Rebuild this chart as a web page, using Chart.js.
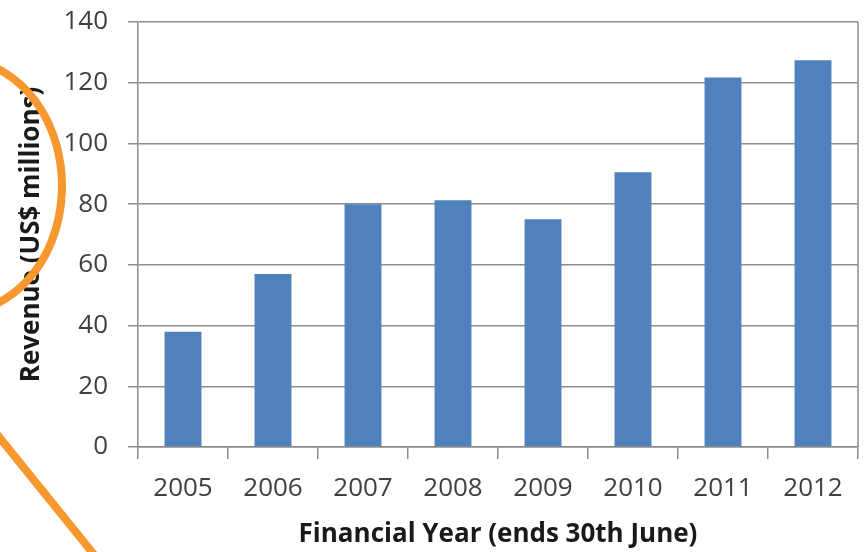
<!DOCTYPE html>
<html lang="en">
<head>
    <meta charset="UTF-8">
    <title>Revenue by Financial Year</title>
    <script src="https://cdn.jsdelivr.net/npm/chart.js"></script>
    <style>
        html, body { margin: 0; padding: 0; background: #fff; }
        #wrap { width: 864px; height: 552px; }
    </style>
</head>
<body>
    <div id="wrap"><canvas id="myChart" width="864" height="552"></canvas></div>
    <script>
        const years = ['2005', '2006', '2007', '2008', '2009', '2010', '2011', '2012'];
        const revenue = [38, 57, 80, 81.3, 75, 90.5, 121.7, 127.4];
        const yTicks = [0, 20, 40, 60, 80, 100, 120, 140];

        // plot border + the orange pen marks over the axis title
        const overlay = {
            id: 'overlay',
            afterDraw(chart) {
                const ctx = chart.ctx;
                const a = chart.chartArea;
                ctx.save();
                ctx.strokeStyle = '#8c8c8c';
                ctx.lineWidth = 1.5;
                ctx.beginPath();
                ctx.moveTo(a.right, a.top);
                ctx.lineTo(a.right, a.bottom);
                ctx.stroke();

                ctx.strokeStyle = '#f7982e';
                ctx.lineWidth = 8;
                ctx.beginPath();
                ctx.ellipse(-40, 186, 102, 126, 0, -1.9, 1.9);
                ctx.stroke();
                ctx.beginPath();
                ctx.moveTo(-5, 432);
                ctx.lineTo(96, 557);
                ctx.stroke();
                ctx.restore();
            }
        };

        const ctx = document.getElementById('myChart').getContext('2d');
        new Chart(ctx, {
            type: 'bar',
            data: {
                labels: years,
                datasets: [{
                    label: 'Revenue',
                    data: revenue,
                    backgroundColor: '#4f81bd',
                    categoryPercentage: 1,
                    barPercentage: 0.41
                }]
            },
            options: {
                responsive: false,
                animation: false,
                layout: { padding: { left: 0, right: 6, top: 22, bottom: 0 } },
                plugins: {
                    legend: { display: false },
                    tooltip: { enabled: false }
                },
                scales: {
                    x: {
                        grid: {
                            offset: true,
                            drawOnChartArea: false,
                            drawTicks: true,
                            tickLength: 12,
                            color: '#8c8c8c',
                            lineWidth: 1.5
                        },
                        border: { color: '#8c8c8c', width: 1.5 },
                        ticks: {
                            color: '#404040',
                            padding: 14,
                            font: { family: 'Open Sans', size: 26 }
                        },
                        title: {
                            display: true,
                            text: 'Financial Year (ends 30th June)',
                            color: '#1a1a1a',
                            font: { family: 'Open Sans', size: 26, weight: 'bold' },
                            padding: { top: 0, bottom: 2 }
                        },
                        afterFit(scale) { scale.height = 105; }
                    },
                    y: {
                        min: 0,
                        max: 140,
                        afterBuildTicks(scale) {
                            scale.ticks = yTicks.map(v => ({ value: v }));
                        },
                        grid: {
                            color: '#8c8c8c',
                            lineWidth: 1.5,
                            tickLength: 10
                        },
                        border: { color: '#8c8c8c', width: 1.5 },
                        ticks: {
                            color: '#404040',
                            padding: 20,
                            font: { family: 'Open Sans', size: 26 }
                        },
                        title: {
                            display: true,
                            text: 'Revenue (US$ millions)',
                            color: '#1a1a1a',
                            font: { family: 'Open Sans', size: 26, weight: 'bold' },
                            padding: { top: 16, bottom: 0 }
                        },
                        afterFit(scale) {
                            scale.width = 138;
                            scale.paddingTop = 0;
                            scale.paddingBottom = 0;
                        }
                    }
                }
            },
            plugins: [overlay]
        });
    </script>
</body>
</html>
